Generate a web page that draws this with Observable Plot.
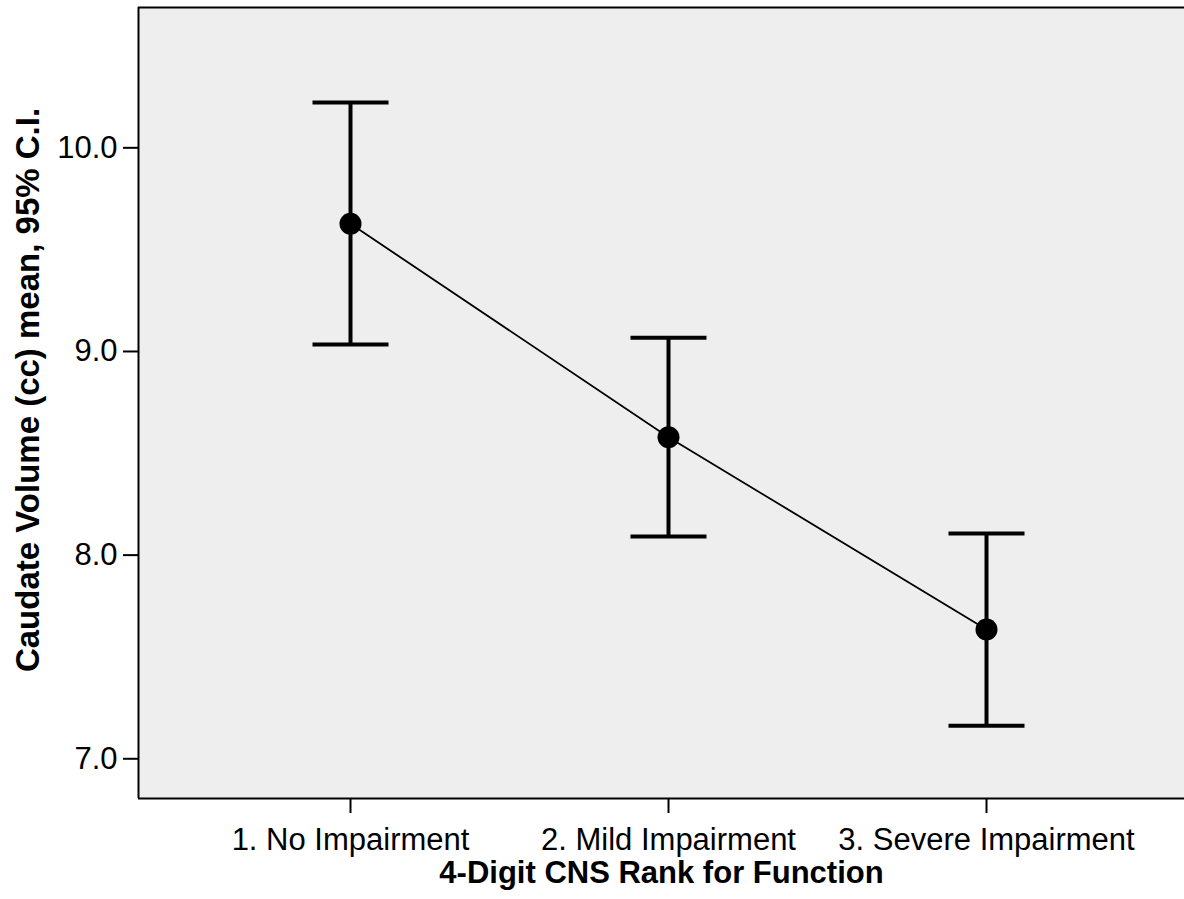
<!DOCTYPE html>
<html>
<head>
<meta charset="utf-8">
<script src="https://cdn.jsdelivr.net/npm/d3@7"></script>
<script src="https://cdn.jsdelivr.net/npm/@observablehq/plot@0.6"></script>
<style>
  html, body { margin: 0; padding: 0; background: white; }
</style>
</head>
<body>
<div id="chart"></div>
<script>
const ranks = ["1. No Impairment", "2. Mild Impairment", "3. Severe Impairment"];
const rankIndex = [1, 2, 3];
const means = [9.627, 8.579, 7.635];
const upperCI = [10.222, 9.067, 8.106];
const lowerCI = [9.034, 8.091, 7.162];
const yTicks = [7, 8, 9, 10];
const xTitle = "4-Digit CNS Rank for Function";
const yTitle = "Caudate Volume (cc) mean, 95% C.I.";

const data = rankIndex.map((r, i) => ({rank: r, mean: means[i], lo: lowerCI[i], hi: upperCI[i]}));

const xDomain = [1 / 3, 3.6226];
const yDomain = [6.805, 10.689];

// horizontal cap symbol for error bars
const capSymbol = {
  draw(ctx, size) {
    const r = Math.sqrt(size / Math.PI);
    ctx.moveTo(-r, 0);
    ctx.lineTo(r, 0);
  }
};

const chart = Plot.plot({
  width: 1184,
  height: 899,
  marginLeft: 138,
  marginRight: 0,
  marginTop: 7,
  marginBottom: 101,
  style: {fontFamily: "'Liberation Sans', Arial, sans-serif", fontSize: "31px", background: "white", color: "black"},
  x: {type: "linear", domain: xDomain},
  y: {domain: yDomain},
  marks: [
    Plot.frame({fill: "#eeeeee", stroke: null}),
    Plot.axisX({ticks: rankIndex, tickFormat: i => ranks[i - 1], tickSize: 15, tickPadding: 14, strokeWidth: 2, fontSize: 31, label: null}),
    Plot.axisY({ticks: yTicks, tickFormat: d3.format(".1f"), tickSize: 15, tickPadding: 6, strokeWidth: 2, fontSize: 31, label: null}),
    Plot.ruleX([xDomain[0]], {stroke: "black", strokeWidth: 2}),
    Plot.ruleY(yDomain, {stroke: "black", strokeWidth: 2}),
    Plot.line(data, {x: "rank", y: "mean", stroke: "black", strokeWidth: 1.8}),
    Plot.ruleX(data, {x: "rank", y1: "lo", y2: "hi", stroke: "black", strokeWidth: 4}),
    Plot.dot(data, {x: "rank", y: "hi", symbol: capSymbol, r: 38, stroke: "black", strokeWidth: 4, fill: "none"}),
    Plot.dot(data, {x: "rank", y: "lo", symbol: capSymbol, r: 38, stroke: "black", strokeWidth: 4, fill: "none"}),
    Plot.dot(data, {x: "rank", y: "mean", r: 11, fill: "black", stroke: null}),
    Plot.text([xTitle], {frameAnchor: "bottom", dy: 75, lineAnchor: "middle", textAnchor: "middle", fontWeight: "bold", fontSize: 31}),
    Plot.text([yTitle], {frameAnchor: "left", dx: -110, dy: -13, rotate: -90, lineAnchor: "middle", textAnchor: "middle", fontWeight: "bold", fontSize: 33})
  ]
});
document.getElementById("chart").appendChild(chart);
</script>
</body>
</html>
